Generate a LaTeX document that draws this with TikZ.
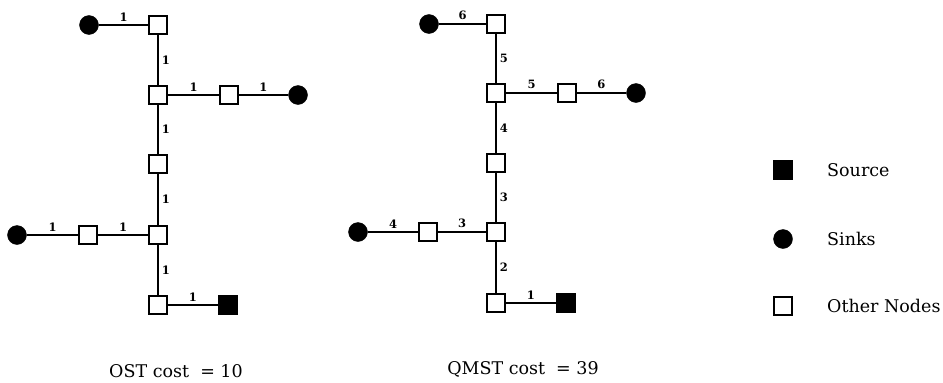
\documentclass[tikz,border=0pt]{standalone}
\usepackage{fontspec}
\setmainfont{DejaVu Serif}
\tikzset{
  onode/.style={draw=black,line width=1.8pt,fill=white,minimum size=17.5pt,inner sep=0pt,rectangle},
  srcnode/.style={draw=black,line width=1pt,fill=black,minimum size=19pt,inner sep=0pt,rectangle},
  sinknode/.style={draw=black,fill=black,circle,minimum size=19pt,inner sep=0pt},
  edge/.style={line width=1.8pt},
  wlab/.style={font=\bfseries\fontsize{11.5}{13}\selectfont,inner sep=1pt},
  captext/.style={font=\fontsize{17.5}{20}\selectfont,inner sep=0pt},
  legtext/.style={font=\fontsize{17.5}{20}\selectfont,inner sep=0pt,anchor=west}
}
\begin{document}
\begin{tikzpicture}[x=1pt,y=-1pt]
\useasboundingbox (0,0) rectangle (943,383);
% ---- OST tree ----
\node[sinknode] (a1) at (89,25) {};
\node[onode] (a2) at (158,25) {};
\node[onode] (a3) at (158,95) {};
\node[onode] (a4) at (229,95) {};
\node[sinknode] (a5) at (298,95) {};
\node[onode] (a6) at (158,164) {};
\node[onode] (a7) at (158,235) {};
\node[onode] (a8) at (88,235) {};
\node[sinknode] (a9) at (17,235) {};
\node[onode] (a10) at (158,305) {};
\node[srcnode] (a11) at (228,305) {};
\draw[edge] (a1) -- node[wlab,above=2pt] {1} (a2);
\draw[edge] (a2) -- node[wlab,right=2pt] {1} (a3);
\draw[edge] (a3) -- node[wlab,above=2pt] {1} (a4);
\draw[edge] (a4) -- node[wlab,above=2pt] {1} (a5);
\draw[edge] (a3) -- node[wlab,right=2pt] {1} (a6);
\draw[edge] (a6) -- node[wlab,right=2pt] {1} (a7);
\draw[edge] (a7) -- node[wlab,above=2pt] {1} (a8);
\draw[edge] (a8) -- node[wlab,above=2pt] {1} (a9);
\draw[edge] (a7) -- node[wlab,right=2pt] {1} (a10);
\draw[edge] (a10) -- node[wlab,above=2pt] {1} (a11);
\node[captext] (capA) at (176,371) {OST cost \ = 10};
% ---- QMST tree ----
\node[sinknode] (b1) at (429,24) {};
\node[onode] (b2) at (496,24) {};
\node[onode] (b3) at (496,93) {};
\node[onode] (b4) at (567,93) {};
\node[sinknode] (b5) at (636,93) {};
\node[onode] (b6) at (496,163) {};
\node[onode] (b7) at (496,232) {};
\node[onode] (b8) at (428,232) {};
\node[sinknode] (b9) at (358,232) {};
\node[onode] (b10) at (496,303) {};
\node[srcnode] (b11) at (566,303) {};
\draw[edge] (b1) -- node[wlab,above=2pt] {6} (b2);
\draw[edge] (b2) -- node[wlab,right=2pt] {5} (b3);
\draw[edge] (b3) -- node[wlab,above=2pt] {5} (b4);
\draw[edge] (b4) -- node[wlab,above=2pt] {6} (b5);
\draw[edge] (b3) -- node[wlab,right=2pt] {4} (b6);
\draw[edge] (b6) -- node[wlab,right=2pt] {3} (b7);
\draw[edge] (b7) -- node[wlab,above=2pt] {3} (b8);
\draw[edge] (b8) -- node[wlab,above=2pt] {4} (b9);
\draw[edge] (b7) -- node[wlab,right=2pt] {2} (b10);
\draw[edge] (b10) -- node[wlab,above=2pt] {1} (b11);
\node[captext] (capB) at (523,369) {QMST cost \ = 39};
% ---- legend ----
\node[srcnode] (l1) at (783,170) {};
\node[legtext] (t1) at (827,170) {Source};
\node[sinknode] (l2) at (783,239) {};
\node[legtext] (t2) at (827,239) {Sinks};
\node[onode] (l3) at (783,306) {};
\node[legtext] (t3) at (827,306) {Other Nodes};
\end{tikzpicture}
\end{document}
